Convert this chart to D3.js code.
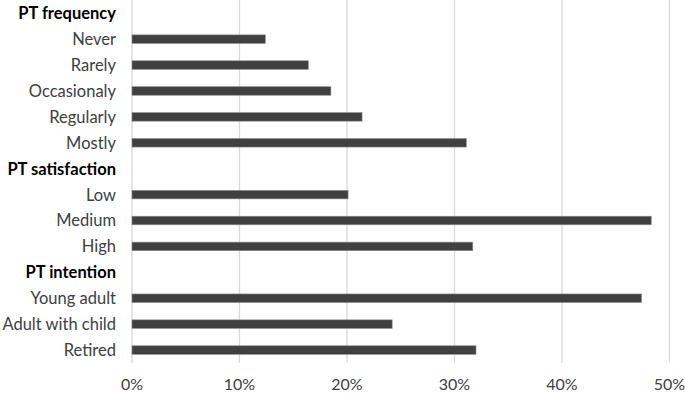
<!DOCTYPE html>
<html><head><meta charset="utf-8">
<script src="https://cdn.jsdelivr.net/npm/d3@7"></script>
<style>body{margin:0;background:#fff}svg{display:block}</style>
</head><body><svg id="c" width="685" height="393"></svg>
<script>
const categories = ["PT frequency","Never","Rarely","Occasionaly","Regularly","Mostly","PT satisfaction","Low","Medium","High","PT intention","Young adult","Adult with child","Retired"];
const headers = ["PT frequency","PT satisfaction","PT intention"];
const values = [null,12.4,16.4,18.5,21.4,31.1,null,20.1,48.3,31.7,null,47.4,24.2,32.0];
const tickValues = [0,10,20,30,40,50];
const tickLabels = ["0%","10%","20%","30%","40%","50%"];

const svg = d3.select("#c");
const x = d3.scaleLinear().domain([0,50]).range([132,669.5]);
const y = d3.scaleBand().domain(categories).range([0.3,363]).paddingInner(0.67).paddingOuter(0.335);
const font = "Lato, 'Open Sans', sans-serif";

svg.append("g").selectAll("line").data(tickValues).join("line")
  .attr("x1",d=>x(d)).attr("x2",d=>x(d)).attr("y1",0).attr("y2",363)
  .attr("stroke","#d9d9d9").attr("stroke-width",1.3);

svg.append("g").selectAll("rect").data(categories.map((c,i)=>({c,v:values[i]})).filter(d=>d.v!=null)).join("rect")
  .attr("x",x(0)).attr("y",d=>y(d.c)).attr("width",d=>x(d.v)-x(0)).attr("height",y.bandwidth())
  .attr("fill","#404040").attr("stroke","#8a8a8a").attr("stroke-width",0.6);

svg.append("g").selectAll("text").data(categories).join("text")
  .attr("x",116).attr("y",d=>y(d)+y.bandwidth()/2).attr("dy","0.36em")
  .attr("text-anchor","end").attr("font-family",font)
  .attr("font-size",16.5).attr("font-weight",d=>headers.includes(d)?"bold":"normal")
  .attr("fill",d=>headers.includes(d)?"#000":"#404040")
  .text(d=>d);

svg.append("g").selectAll("text").data(tickValues).join("text")
  .attr("x",d=>x(d)).attr("y",390).attr("text-anchor","middle")
  .attr("font-family",font).attr("font-size",16).attr("fill","#404040")
  .text((d,i)=>tickLabels[i]);
</script></body></html>
